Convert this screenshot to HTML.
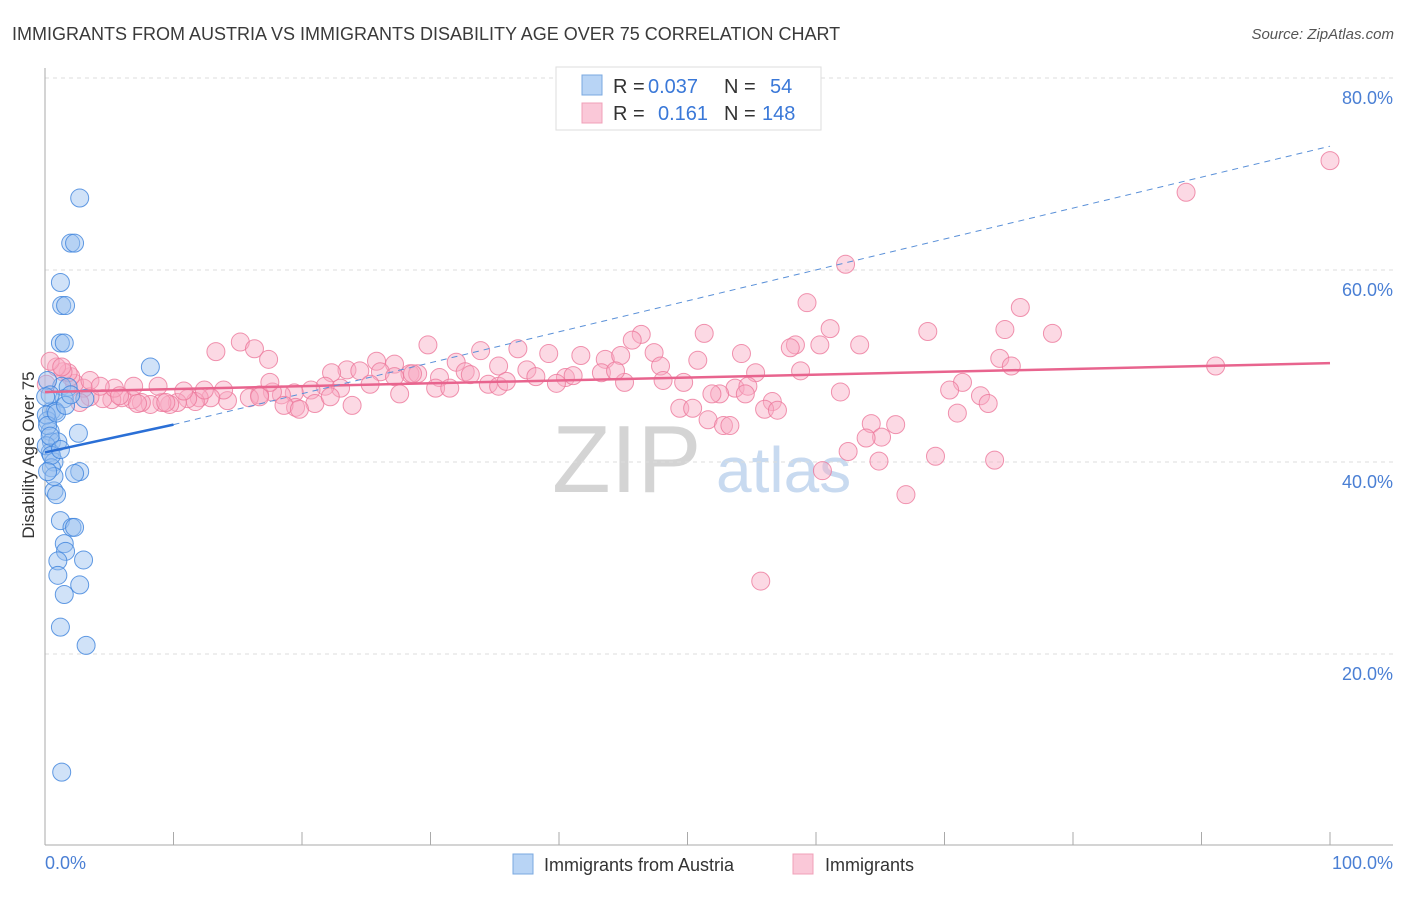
<!DOCTYPE html>
<html><head><meta charset="utf-8"><style>
body{margin:0;background:#fff;font-family:"Liberation Sans",sans-serif;}
svg text{font-family:"Liberation Sans",sans-serif;}
</style></head><body>
<svg id="c" width="1406" height="892">
<text x="12" y="40" font-size="18" fill="#3a3a3a">IMMIGRANTS FROM AUSTRIA VS IMMIGRANTS DISABILITY AGE OVER 75 CORRELATION CHART</text>
<text x="1394" y="39" font-size="15" fill="#555" font-style="italic" text-anchor="end">Source: ZipAtlas.com</text>
<text x="552" y="492" font-size="96" fill="#d4d4d4" font-family="Liberation Serif">ZIP</text>
<text x="716" y="492" font-size="64" fill="#c8daf0">atlas</text>
<g id="grid"></g>
<line x1="45" y1="68" x2="45" y2="845" stroke="#aaa"/>
<line x1="45" y1="845" x2="1393" y2="845" stroke="#aaa"/>
<text x="34" y="455" font-size="17" fill="#333" transform="rotate(-90 34 455)" text-anchor="middle">Disability Age Over 75</text>
<text x="45" y="869" font-size="18" fill="#4a7fd4">0.0%</text>
<text x="1393" y="869" font-size="18" fill="#4a7fd4" text-anchor="end">100.0%</text>
<g id="pts"></g>
<g id="lines"></g>
<g>
<rect x="556" y="67" width="265" height="63" fill="#fff" stroke="#ddd"/>
<rect x="582" y="75" width="20" height="20" fill="#b8d4f5" stroke="#7aa8e0"/>
<rect x="582" y="103" width="20" height="20" fill="#fac8d8" stroke="#f0a0b8"/>
<text x="613" y="93" font-size="20" fill="#333">R =</text>
<text x="648" y="93" font-size="20" fill="#3a78d8">0.037</text>
<text x="724" y="93" font-size="20" fill="#333">N =</text>
<text x="770" y="93" font-size="20" fill="#3a78d8">54</text>
<text x="613" y="120" font-size="20" fill="#333">R =</text>
<text x="658" y="120" font-size="20" fill="#3a78d8">0.161</text>
<text x="724" y="120" font-size="20" fill="#333">N =</text>
<text x="762" y="120" font-size="20" fill="#3a78d8">148</text>
</g>
<g>
<rect x="513" y="854" width="20" height="20" fill="#b8d4f5" stroke="#7aa8e0"/>
<text x="544" y="871" font-size="18" fill="#333">Immigrants from Austria</text>
<rect x="793" y="854" width="20" height="20" fill="#fac8d8" stroke="#f0a0b8"/>
<text x="825" y="871" font-size="18" fill="#333">Immigrants</text>
</g>
</svg>
<script>
const yTicks=[20,40,60,80];
const yTickLabels=["20.0%","40.0%","60.0%","80.0%"];
const blueX=[2.7,2,2.3,1.2,1.3,1.6,1.2,1.5,8.2,1.3,1.8,3.1,1.5,0.5,0.8,0.2,0.4,2.6,0.5,1,0.4,0.7,0.5,2.7,2.3,0.7,0.9,1.2,2.1,2.3,1.5,1.6,1,3,1,2.7,1.5,1.2,3.2,1.3,0.2,0.4,0.1,0.2,0.1,0.05,0.9,0.4,0.5,1.2,0.7,1.6,2,0.2];
const blueY=[67.6,62.9,62.9,58.8,56.4,56.4,52.5,52.5,50,48,47.9,46.7,46.7,45.4,45.4,44.4,43.3,43.1,42.2,42.2,41.1,40.1,39.5,39.1,38.9,37.1,36.7,34,33.3,33.3,31.6,30.8,29.8,29.9,28.3,27.3,26.3,22.9,21,7.8,48.6,47.1,45,43.9,41.8,46.9,45.2,42.8,40.8,41.4,38.6,46,47.1,39.1];
const pinkX=[100,88.8,62.3,75.9,59.3,74.7,78.4,68.7,61.1,46.4,51.3,29.8,58.4,63.4,60.3,58,39.2,36.8,33.9,54.2,47.4,41.7,43.6,44.8,50.8,74.3,91.1,25.8,27.2,23.5,22.3,32,35.3,37.5,38.2,40.5,41.1,43.3,45.1,47.9,49.7,48.1,55.3,58.8,71.4,75.2,53.7,54.7,52.5,51.9,54.5,70.4,72.8,73.4,71,56.6,56,57,49.4,50.4,51.6,52.8,53.3,61.9,64.3,66.2,65.1,63.9,62.5,60.5,64.9,69.3,73.9,67,55.7,24.5,26.1,28.4,29,30.7,32.7,34.5,35.3,30.4,33.1,28.6,27.2,25.3,23,21.8,20.7,19.4,18.4,17.7,16.7,15.9,14.2,13.9,12.9,12,11.7,11.1,10.3,9.7,9.1,8.2,7.5,6.8,6,5.2,4.5,3.5,3,2.3,2,1.8,1.4,0.9,0.4,1.3,13.3,15.2,16.3,17.4,19.5,21,23.9,22.2,12.4,5.4,6.9,8.8,10.8,17.5,18.6,19.8,16.7,7.2,9.4,3.5,4.3,5.8,2.7,0.1,27.6,31.5,35.9,39.8,44.4,45.7];
const pinkY=[71.5,68.2,60.7,56.2,56.7,53.9,53.5,53.7,54,53.4,53.5,52.3,52.3,52.3,52.3,52,51.4,51.9,51.7,51.4,51.5,51.2,50.8,51.2,50.7,50.9,50.1,50.6,50.3,49.7,49.4,50.5,50.1,49.7,49,48.9,49.1,49.4,48.4,50.1,48.4,48.6,49.4,49.6,48.4,50.1,47.8,48,47.2,47.2,47.2,47.6,47,46.2,45.2,46.4,45.6,45.5,45.7,45.7,44.5,43.9,43.9,47.4,44.1,44,42.7,42.6,41.2,39.2,40.2,40.7,40.3,36.7,27.7,49.6,49.5,49.3,49.3,48.9,49.5,48.2,48,47.8,49.2,49.3,49,48.2,47.8,48,47.6,47.3,47.1,47.4,47.1,46.8,46.5,47.6,46.8,46.8,46.4,46.7,46.3,46.1,46.3,46.1,46.3,46.6,46.8,46.6,46.7,46.9,47.8,48.3,49,49.4,49.5,50,50.6,50,51.6,52.6,51.9,50.8,45.8,46.2,46,46.9,47.6,47.8,48,48,47.5,48.4,46,45.6,46.9,46.2,46.3,48.6,48,47,46.3,48.2,47.2,47.8,48.5,48.3,49.6,52.8,51.8,51.2,49,48.2,50.8];
const blueTrend=[0,41.1,10,44];
const blueDash=[10,44,100,73];
const pinkTrend=[0,47.4,100,50.4];
const X=v=>45+v*12.85, Y=v=>847-v*9.6;
const ns="http://www.w3.org/2000/svg";
function mk(t,a,p){const e=document.createElementNS(ns,t);for(const k in a)e.setAttribute(k,a[k]);p.appendChild(e);return e;}
const g=document.getElementById('grid');
yTicks.forEach((t,i)=>{
 const l=mk('line',{x1:45,x2:1393,y1:Y(t)-1,y2:Y(t)-1,stroke:'#ddd','stroke-dasharray':'4 4'},g);
 
 
 const tx=mk('text',{x:1393,y:Y(t)+25,'font-size':18,fill:'#4a7fd4','text-anchor':'end'},g);
 tx.textContent=yTickLabels[i];
 
 
});
for(let k=1;k<=10;k++){
 const l=mk('line',{x1:X(k*10),x2:X(k*10),y1:832,y2:845,stroke:'#aaa'},g);
 
 
}
const p=document.getElementById('pts');
pinkX.forEach((v,i)=>{
 const c=mk('circle',{cx:X(v),cy:Y(pinkY[i]),r:9,fill:'rgba(248,170,195,0.45)',stroke:'rgba(236,120,155,0.8)','stroke-width':1},p);
 
 
});
blueX.forEach((v,i)=>{
 const c=mk('circle',{cx:X(v),cy:Y(blueY[i]),r:9,fill:'rgba(150,190,240,0.45)',stroke:'rgba(60,130,220,0.8)','stroke-width':1},p);
 
 
});
const L=document.getElementById('lines');
let e=mk('line',{x1:X(pinkTrend[0]),y1:Y(pinkTrend[1]),x2:X(pinkTrend[2]),y2:Y(pinkTrend[3]),stroke:'#e8648e','stroke-width':2.5},L);


e=mk('line',{x1:X(blueDash[0]),y1:Y(blueDash[1]),x2:X(blueDash[2]),y2:Y(blueDash[3]),stroke:'#5a90d8','stroke-width':1,'stroke-dasharray':'6 5'},L);


e=mk('line',{x1:X(blueTrend[0]),y1:Y(blueTrend[1]),x2:X(blueTrend[2]),y2:Y(blueTrend[3]),stroke:'#2a6fd6','stroke-width':2.5},L);


</script>
</body></html>
